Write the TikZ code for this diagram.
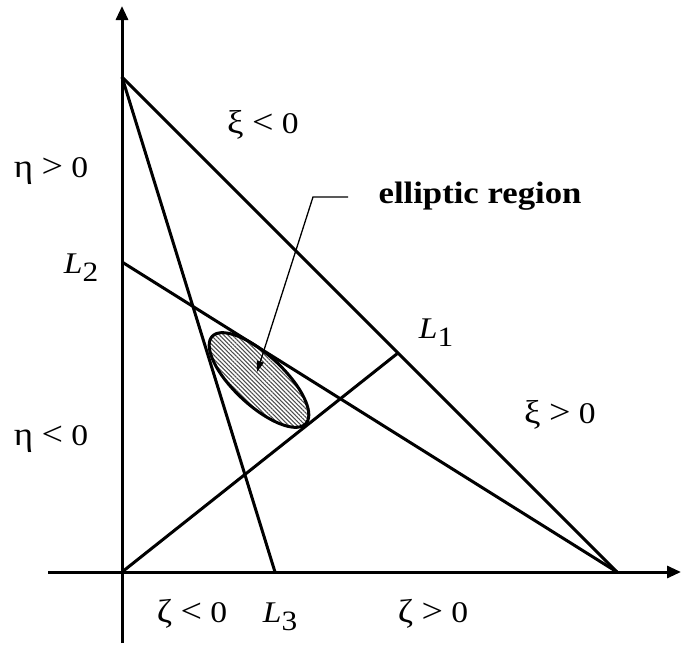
\documentclass[tikz,border=0pt]{standalone}
\usepackage{fontspec}
\setmainfont[FakeStretch=1.12]{Liberation Serif}
\usetikzlibrary{arrows.meta,patterns.meta}
\newcommand{\Lsubs}[1]{\textit{L}\raisebox{-8pt}{\fontsize{28}{28}\selectfont #1}}
\newcommand{\gk}[1]{{\fontsize{33}{36}\selectfont #1}}
\newcommand{\relsym}[1]{{\fontsize{34}{36}\selectfont #1}}
\begin{document}
\begin{tikzpicture}[x=1pt,y=-1pt,
  lab/.style={font=\fontsize{30}{36}\selectfont, inner sep=0pt, anchor=base},
  boldlab/.style={lab, font=\bfseries\fontsize{31}{36}\selectfont},
  mainline/.style={line width=3pt},
  axis/.style={line width=3pt, -{Triangle[width=12pt,length=14pt]}},
  leader/.style={line width=1.3pt, -{Triangle[width=7pt,length=11pt]}},
  hatch/.style={line width=3pt, pattern={Lines[angle=-45,distance=3pt,line width=1.1pt]}, pattern color=black!70},
]
\useasboundingbox (0,0) rectangle (681,646);
% points
\coordinate (O) at (122,572);
\coordinate (A) at (122,77);
\coordinate (B) at (617,572);
\coordinate (C) at (122,262);
\coordinate (D) at (275,572);
\coordinate (E) at (398,353);
\coordinate (Ytop) at (122,6);
\coordinate (Ybot) at (122,643);
\coordinate (Xl) at (48,572);
\coordinate (Xr) at (681,572);
\coordinate (T1) at (348,197);
\coordinate (T2) at (313,197);
\coordinate (ET) at (257,372);
% axes
\draw[axis] (Ybot) -- (Ytop);
\draw[axis] (Xl) -- (Xr);
% lines
\draw[mainline] (A) -- (B);
\draw[mainline] (C) -- (B);
\draw[mainline] (A) -- (D);
\draw[mainline] (O) -- (E);
% ellipse
\draw[hatch] plot[smooth cycle, domain=0:355, samples=72]
  ({259+64*cos(\x)*cos(43)-25*sin(\x)*sin(43)}, {380+64*cos(\x)*sin(43)+25*sin(\x)*cos(43)});
% leader
\draw[leader] (T1) -- (T2) -- (ET);
% labels
\node[lab] (xineg) at (263,133) {\gk{ξ} \relsym{<} 0};
\node[lab] (etapos) at (51,177) {\gk{η} \relsym{>} 0};
\node[lab] (L2) at (81,273) {\Lsubs{2}};
\node[boldlab] (er) at (480,203) {elliptic region};
\node[lab] (L1) at (436,338) {\Lsubs{1}};
\node[lab] (xipos) at (560,423) {\gk{ξ} \relsym{>} 0};
\node[lab] (etaneg) at (51,445) {\gk{η} \relsym{<} 0};
\node[lab] (zetaneg) at (192,622) {\gk{ζ} \relsym{<} 0};
\node[lab] (L3) at (280,622) {\Lsubs{3}};
\node[lab] (zetapos) at (433,622) {\gk{ζ} \relsym{>} 0};
\end{tikzpicture}
\end{document}
